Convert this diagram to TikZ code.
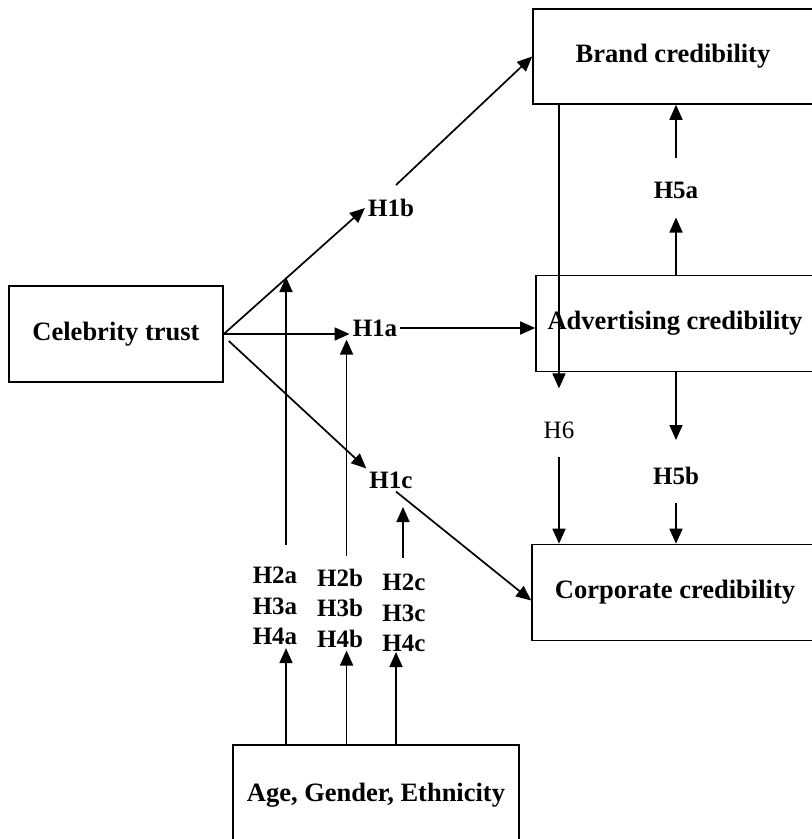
\documentclass[tikz,border=0pt]{standalone}
\usepackage{fontspec}
\setmainfont{Liberation Serif}
\usetikzlibrary{arrows.meta,positioning,calc}
\tikzset{
  box/.style={draw, line width=1.6pt, minimum height=96pt, inner sep=0pt,
              font=\fontsize{26.5}{31}\selectfont\bfseries},
  hyp/.style={inner sep=3pt, font=\fontsize{25}{30}\selectfont\bfseries},
  hypstack/.style={hyp, align=center, font=\fontsize{25}{30.5}\selectfont\bfseries},
  flow/.style={-{Triangle[length=15pt,width=13pt]}, line width=1.7pt},
}

\begin{document}
\begin{tikzpicture}[x=1pt, y=-1pt]
  \useasboundingbox (0,0) rectangle (812,839);
  \clip (0,0) rectangle (812,839);
  \node[box, minimum width=214pt] (celeb) at (116,334) {Celebrity trust};
  \node[box, minimum width=280pt, minimum height=95pt] (brand) at (673,56.5) {Brand credibility};
  \node[box, minimum width=278pt] (adv) at (675,323.5) {Advertising credibility};
  \node[box, minimum width=286pt] (corp) at (675,592.5) {Corporate credibility};
  \node[box, minimum width=286pt, minimum height=100pt] (age) at (376,795) {Age, Gender, Ethnicity};
  \node[hyp] (h1b) at (391,208) {H1b};
  \node[hyp] (h1a) at (375,328) {H1a};
  \node[hyp] (h1c) at (391,480) {H1c};
  \node[hyp] (h5a) at (676,190) {H5a};
  \node[hyp] (h5b) at (676,476) {H5b};
  \node[hyp, font=\fontsize{25}{30}\selectfont] (h6) at (559,430) {H6};
  \node[hypstack] (sa) at (275,606) {H2a\\H3a\\H4a};
  \node[hypstack] (sb) at (340,608) {H2b\\H3b\\H4b};
  \node[hypstack] (sc) at (404,613) {H2c\\H3c\\H4c};
  \coordinate (ta) at (286,277);
  \coordinate (tb) at ([xshift=-3pt]h1a.south west);
  \coordinate (tc) at (403,507);
  \coordinate (bc) at (396,652);
  \draw[flow] (celeb.east) -- (h1b.west);
  \draw[flow] (celeb.east) -- (celeb.east -| h1a.west);
  \draw[flow] ([shift={(5,7)}]celeb.east) -- (h1c.north west);
  \draw[flow] ([shift={(5,-11)}]h1b.north) -- (brand.west);
  \draw[flow] (h1a.east) -- (h1a.east -| adv.west);
  \draw[flow] ([xshift=5pt]h1c.south) -- ([yshift=-8pt]corp.west);
  \draw[flow, shorten >=16pt] (adv.north -| h5a) -- (h5a.south);
  \draw[flow, shorten <=20pt] (h5a.north) -- (h5a.north |- brand.south);
  \draw[flow, shorten >=24pt] (adv.south -| h5b) -- (h5b.north);
  \draw[flow, shorten <=15pt] (h5b.south) -- (h5b.south |- corp.north);
  \draw[flow, shorten >=30pt] (brand.south -| h6) -- (h6.north);
  \draw[flow, shorten <=15pt] (h6.south) -- (h6.south |- corp.north);
  \draw[flow, shorten <=19pt] (sa.north -| ta) -- (ta);
  \draw[flow, shorten <=10pt] (sb.north -| tb) -- (tb);
  \draw[flow, shorten <=13pt] (sc.north -| tc) -- (tc);
  \draw[flow] (age.north -| ta) -- (sa.south -| ta);
  \draw[flow] (age.north -| tb) -- (sb.south -| tb);
  \draw[flow] (age.north -| bc) -- (bc);
\end{tikzpicture}
\end{document}
